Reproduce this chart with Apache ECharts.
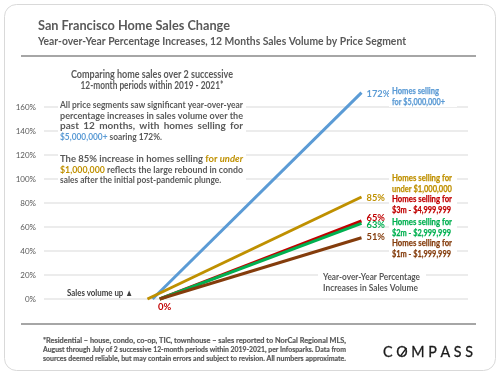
<!DOCTYPE html>
<html><head><meta charset="utf-8">
<script src="https://cdn.jsdelivr.net/npm/echarts@6/dist/echarts.min.js"></script>
<style>html,body{margin:0;padding:0;background:#fff}#c{width:500px;height:375px}</style>
</head><body><div id="c"></div>
<script>
// ---------- data ----------
const segments = ['Homes selling for $5,000,000+', 'Homes selling for under $1,000,000', 'Homes selling for $3m - $4,999,999', 'Homes selling for $2m - $2,999,999', 'Homes selling for $1m - $1,999,999'];
const startValues = [0, 0, 0, 0, 0];
const endValues = [172, 85, 65, 63, 51];
const startPos = [-0.02, -0.045, 0.015, 0.015, 0.015];
const endPos = [1, 1, 1, 1, 1];
const yTickLabels = ['0%', '20%', '40%', '60%', '80%', '100%', '120%', '140%', '160%'];
const colors = ['#5B9BD5', '#BF9000', '#C00000', '#00B050', '#843C0C'];

const FONT = 'Lato, "Open Sans", sans-serif';
const GRAY = '#595959';
const chart = echarts.init(document.getElementById('c'), null, {renderer: 'canvas'});

const cv = document.createElement('canvas').getContext('2d');
function fnt(size, weight, italic) { return (italic ? 'italic ' : '') + (weight || 'bold') + ' ' + size + 'px ' + FONT; }
function tw(t, size, weight, italic) { cv.font = fnt(size, weight, italic); return cv.measureText(t).width; }
// place a line of words into [x0, x0+width]; shrink horizontally if too wide, justify if asked
function fitLine(words, x0, width, y, size, justify, weight, heavy) {
  const els = [];
  const ws = words.map(w => tw(w.t, size, w.w || weight, w.i));
  const sum = ws.reduce((a, b) => a + b, 0);
  const sp = tw(' ', size, weight);
  const natural = sum + sp * (words.length - 1);
  let s = 1, gap = sp;
  if (natural > width) { s = width / natural; gap = sp * s; }
  else if (justify && words.length > 1) gap = (width - sum) / (words.length - 1);
  let x = x0;
  words.forEach((w, k) => {
    const st = {text: w.t, x: 0, y: 0, verticalAlign: 'middle', fill: w.c || GRAY, font: fnt(size, w.w || weight, w.i)};
    if (heavy) { st.stroke = w.c || GRAY; st.lineWidth = heavy; }
    els.push({type: 'text', z: 100, x: x, y: y, scaleX: s, style: st});
    x += ws[k] * s + gap;
  });
  return els;
}
function W(str, c, i) { return str.split(' ').map(t => ({t, c, i})); }
// single text scaled to a target width, anchored at left x0 or center
function fitText(t, x, width, y, size, color, align, weight, heavy) {
  const nat = tw(t, size, weight);
  const s = width / nat;
  const st = {text: t, x: 0, y: 0, align: align || 'left', verticalAlign: 'middle', fill: color || GRAY, font: fnt(size, weight)};
  if (heavy) { st.stroke = color || GRAY; st.lineWidth = heavy; }
  return {type: 'text', z: 100, x: x, y: y, scaleX: s, style: st};
}

const graphics = [];
// card and rules
graphics.push({type: 'rect', z: 0, shape: {x: 4.5, y: 4.5, width: 491, height: 366, r: 12}, style: {fill: 'none', stroke: '#d9d9d9', lineWidth: 1}});
graphics.push(fitText('San Francisco Home Sales Change', 38, 192, 25, 14));
graphics.push(fitText('Year-over-Year Percentage Increases, 12 Months Sales Volume by Price Segment', 38, 368, 41, 11));
graphics.push({type: 'line', z: 100, shape: {x1: 21, y1: 56, x2: 476, y2: 56}, style: {stroke: '#a6a6a6', lineWidth: 2}});
graphics.push({type: 'line', z: 100, shape: {x1: 21, y1: 324, x2: 476, y2: 324}, style: {stroke: '#a6a6a6', lineWidth: 2}});

// text block
graphics.push({type: 'rect', z: 90, shape: {x: 58, y: 66, width: 188, height: 120}, style: {fill: '#fff'}});
graphics.push(fitText('Comparing home sales over 2 successive', 152, 162, 74.5, 10.5, GRAY, 'center'));
graphics.push(fitText('12-month periods within 2019 - 2021*', 152, 143, 85.5, 10.5, GRAY, 'center'));
const P = 10;
const paraLines = [
  [W('All price segments saw significant year-over-year'), true, 105],
  [W('percentage increases in sales volume over the'), true, 115.6],
  [W('past 12 months, with homes selling for'), true, 126.2],
  [W('$5,000,000+', colors[0]).concat(W('soaring 172%.')), false, 136.8],
  [W('The 85% increase in homes selling').concat(W('for', colors[1])).concat(W('under', colors[1], true)), true, 158.7],
  [W('$1,000,000', colors[1]).concat(W('reflects the large rebound in condo')), true, 169.3],
  [W('sales after the initial post-pandemic plunge.'), false, 179.9]
];
const squeeze = 183 / (tw('All price segments saw significant year-over-year', P) + 2);
paraLines.forEach(l => {
  const els = l[1] ? fitLine(l[0], 60, 183, l[2], P, true)
                   : fitLine(l[0], 60, (l[0].reduce((a, b) => a + tw(b.t, P, 'bold', b.i), 0) + tw(' ', P) * (l[0].length - 1)) * squeeze, l[2], P, false);
  graphics.push(...els);
});

// footer
const FS = 7.6;
[['*Residential – house, condo, co-op, TIC, townhouse – sales reported to NorCal Regional MLS,', 341],
 ['August through July of 2 successive 12-month periods within 2019-2021, per Infosparks. Data from', 350],
 ['sources deemed reliable, but may contain errors and subject to revision. All numbers approximate.', 359]]
 .forEach(l => graphics.push(...fitLine(W(l[0]), 43, 303, l[1], FS, true, 'bold', 0.2)));

// COMPASS logo, letters spread
const logo = 'COMPASS'.split('').map(t => ({t, c: '#1a1a1a', w: 'normal'}));
graphics.push(...fitLine(logo, 383, 90, 352, 15.5, true, 'normal', 0.3));
graphics.push({type: 'line', z: 101, shape: {x1: 400.5, y1: 356, x2: 406.5, y2: 348}, style: {stroke: '#1a1a1a', lineWidth: 1.3}});

// in-chart labels
graphics.push(fitText('Sales volume up ▲', 67, 66, 293, 9.5, '#404040'));
graphics.push({type: 'rect', z: 90, shape: {x: 318, y: 270, width: 108, height: 24}, style: {fill: '#fff'}});
graphics.push(fitText('Year-over-Year Percentage', 371.5, 97, 277, 9.5, GRAY, 'center'));
graphics.push(fitText('Increases in Sales Volume', 370.5, 95, 288, 9.5, GRAY, 'center'));
const segLabelLines = [
  ['Homes selling', 47, 'for $5,000,000+', 53, 91],
  ['Homes selling for', 60, 'under $1,000,000', 60, 178],
  ['Homes selling for', 60, '$3m - $4,999,999', 59, 199],
  ['Homes selling for', 60, '$2m - $2,999,999', 59, 222],
  ['Homes selling for', 60, '$1m - $1,999,999', 59, 243]
];
segLabelLines.forEach((s, k) => {
  graphics.push({type: 'rect', z: 90, shape: {x: 389, y: s[4] - 6, width: 68, height: 22}, style: {fill: '#fff'}});
  graphics.push(fitText(s[0], 392, s[1], s[4], 10.3, colors[k], 'left', 'bold', 0.25));
  graphics.push(fitText(s[2], 392, s[3], s[4] + 10.5, 10.3, colors[k], 'left', 'bold', 0.25));
});

const labelOffsets = [[0, 1], [0, 1], [0, -3], [0, 1.5], [0, -0.5]];
const series = segments.map((name, k) => ({
  type: 'line', name, clip: false, symbol: 'circle', symbolSize: 0.1, showSymbol: true, z: 10 + k,
  lineStyle: {color: colors[k], width: 3, cap: 'butt'},
  itemStyle: {color: colors[k]},
  data: [
    {value: [startPos[k], startValues[k]], label: (k === 2 ? {show: true, position: 'bottom', distance: 2, offset: [5, 0], formatter: () => startValues[k] + '%', color: colors[2], fontWeight: 'bold', fontSize: 9.5, fontFamily: FONT, backgroundColor: '#fff', padding: [1, 2]} : {show: false})},
    {value: [endPos[k], endValues[k]], label: {show: true, position: 'right', distance: 5, offset: labelOffsets[k], formatter: () => endValues[k] + '%', color: colors[k], fontWeight: 'bold', fontSize: 9.3, fontFamily: FONT}}
  ],
  emphasis: {disabled: true}, animation: false
}));

chart.setOption({
  animation: false,
  grid: {left: 44, right: 32, top: 107, bottom: 76},
  xAxis: {type: 'value', min: -0.55, max: 1.52, show: false},
  yAxis: {type: 'value', min: 0, max: 160, interval: 20,
    axisLine: {show: false}, axisTick: {show: false},
    axisLabel: {margin: 8, color: GRAY, fontSize: 8, fontFamily: FONT, formatter: v => yTickLabels[v / 20]},
    splitLine: {lineStyle: {color: '#ececec', width: 2}}},
  series,
  graphic: graphics
});
</script></body></html>
